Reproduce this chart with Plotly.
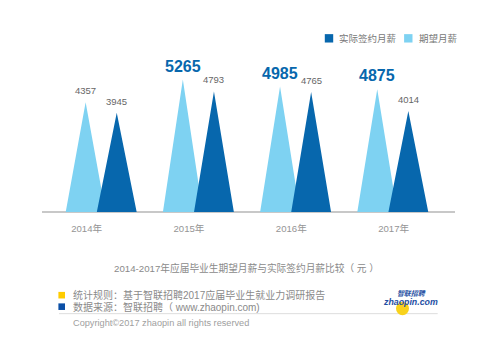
import plotly.graph_objects as go

# ---------------- data ----------------
years = ["2014年", "2015年", "2016年", "2017年"]
expected = [4357, 5265, 4985, 4875]      # 期望月薪
actual = [3945, 4793, 4765, 4014]        # 实际签约月薪
series_names = ["实际签约月薪", "期望月薪"]
caption = "2014-2017年应届毕业生期望月薪与实际签约月薪比较（ 元 ）"
note_rule = "统计规则：基于智联招聘2017应届毕业生就业力调研报告"
note_src = "数据来源：智联招聘（ www.zhaopin.com)"
copyright_txt = "Copyright©2017 zhaopin all rights reserved"

# ---------------- style / layout ----------------
# the page body has an 8px margin, so the figure is offset by 8px
OFS = 8
W, H = 495 - 2 * OFS, 356 - 2 * OFS
# plot area in window pixels
PL, PR, PT, PB = 42, 455, 60.5, 211.7
ML, MR, MT, MB = PL - OFS, W - (PR - OFS), PT - OFS, H - (PB - OFS)
PW, PH = PR - PL, PB - PT
LIGHT = "#7ed2f2"
DARK = "#0767ad"
FONT = "Liberation Sans, Arial, Noto Sans CJK SC, sans-serif"
X0, X1 = -0.609, 3.640
YMAX = 6000
OFF = 0.16      # offset of each triangle apex from category centre
HW = 0.205      # half base width of a triangle
TICK_START, TICK_STEP = -0.15, 1.053   # year labels sit slightly spread out


def px(xp):
    return (xp - PL) / PW


def py(yp):
    return (PB - yp) / PH


def tri_trace(values, offset, color, name):
    xs, ys = [], []
    for i, v in enumerate(values):
        c = i + offset
        xs += [c - HW, c, c + HW, c - HW, None]
        ys += [0, v, 0, 0, None]
    return go.Scatter(x=xs, y=ys, mode="lines", fill="toself", fillcolor=color,
                      line=dict(width=0, color=color), name=name,
                      showlegend=False, hoverinfo="skip")


fig = go.Figure()
fig.add_trace(tri_trace(expected, -OFF, LIGHT, series_names[1]))
fig.add_trace(tri_trace(actual, OFF, DARK, series_names[0]))

annotations = []
for i, v in enumerate(expected):
    big = i > 0
    annotations.append(dict(
        x=i - OFF, y=v, xref="x", yref="y", text=str(v), showarrow=False,
        yanchor="bottom", yshift=3 if big else 4,
        font=dict(family=FONT, size=16 if big else 9.5,
                  color=DARK if big else "#666666",
                  weight="bold" if big else "normal")))
for i, v in enumerate(actual):
    annotations.append(dict(
        x=i + OFF, y=v, xref="x", yref="y", text=str(v), showarrow=False,
        yanchor="bottom", yshift=4,
        font=dict(family=FONT, size=9.5, color="#666666")))

# legend (top right)
shapes = []
leg = [(329, 337.3, DARK, series_names[0]), (408.3, 416.7, LIGHT, series_names[1])]
for cx, tx, col, name in leg:
    shapes.append(dict(type="rect", xref="paper", yref="paper",
                       x0=px(cx - 4.2), x1=px(cx + 4.2), y0=py(37.8 + 4.2), y1=py(37.8 - 4.2),
                       fillcolor=col, line=dict(width=0)))
    annotations.append(dict(x=px(tx), y=py(37.8), xref="paper", yref="paper",
                            text=name, showarrow=False, xanchor="left", yanchor="middle",
                            font=dict(family=FONT, size=9.5, color="#777777")))

# caption
annotations.append(dict(x=px(246.7), y=py(267.7), xref="paper", yref="paper",
                        text=caption, showarrow=False, xanchor="center", yanchor="middle",
                        font=dict(family=FONT, size=9.7, color="#8a8a8a")))

# notes
for cy, col in [(295, "#ffcc00"), (306.5, "#0b4fa6")]:
    shapes.append(dict(type="rect", xref="paper", yref="paper",
                       x0=px(58.4), x1=px(65.0), y0=py(cy + 3.3), y1=py(cy - 3.3),
                       fillcolor=col, line=dict(width=0)))
annotations.append(dict(x=px(71.0), y=py(300.8), xref="paper", yref="paper",
                        text=(f'<span style="font-size:10px">{note_rule}</span><br>'
                              f'<span style="font-size:10px">{note_src}</span>'),
                        showarrow=False, xanchor="left", yanchor="middle", align="left",
                        font=dict(family=FONT, size=8.9, color="#8a8a8a")))

shapes.append(dict(type="line", xref="paper", yref="paper",
                   x0=px(59), x1=px(437.7), y0=py(313.5), y1=py(313.5),
                   line=dict(color="#dddddd", width=1)))
annotations.append(dict(x=px(71.0), y=py(322.7), xref="paper", yref="paper",
                        text=copyright_txt, showarrow=False, xanchor="left", yanchor="middle",
                        font=dict(family=FONT, size=9.2, color="#a0a0a0")))

# logo
shapes.append(dict(type="circle", xref="paper", yref="paper",
                   x0=px(396), x1=px(409), y0=py(315), y1=py(301.5),
                   fillcolor="#f8d21c", line=dict(width=0)))
annotations.append(dict(x=px(410.0), y=py(298.0), xref="paper", yref="paper",
                        text=('<i><span style="font-size:7px">智联招聘</span><br>'
                              '<span style="font-size:8.8px">zhaopin.com</span></i>'),
                        showarrow=False, xanchor="center", yanchor="middle", align="center",
                        font=dict(family=FONT, size=7.1, color="#1e4fa3", weight="bold")))

fig.update_layout(
    width=W, height=H,
    margin=dict(l=ML, r=MR, t=MT, b=MB, pad=0),
    paper_bgcolor="white", plot_bgcolor="white",
    showlegend=False,
    annotations=annotations, shapes=shapes,
    xaxis=dict(range=[X0, X1],
               tickvals=[TICK_START + i * TICK_STEP for i in range(len(years))],
               ticktext=years, showgrid=False, zeroline=False,
               showline=False, ticks="", ticklabelstandoff=9,
               tickfont=dict(family=FONT, size=9.6, color="#959595"),
               fixedrange=True),
    yaxis=dict(range=[0, YMAX], showgrid=False, zeroline=True,
               zerolinecolor="#c8c8c8", zerolinewidth=1.6,
               showticklabels=False, ticks="", fixedrange=True),
)

fig.write_html("out.html", config={"displayModeBar": False})
